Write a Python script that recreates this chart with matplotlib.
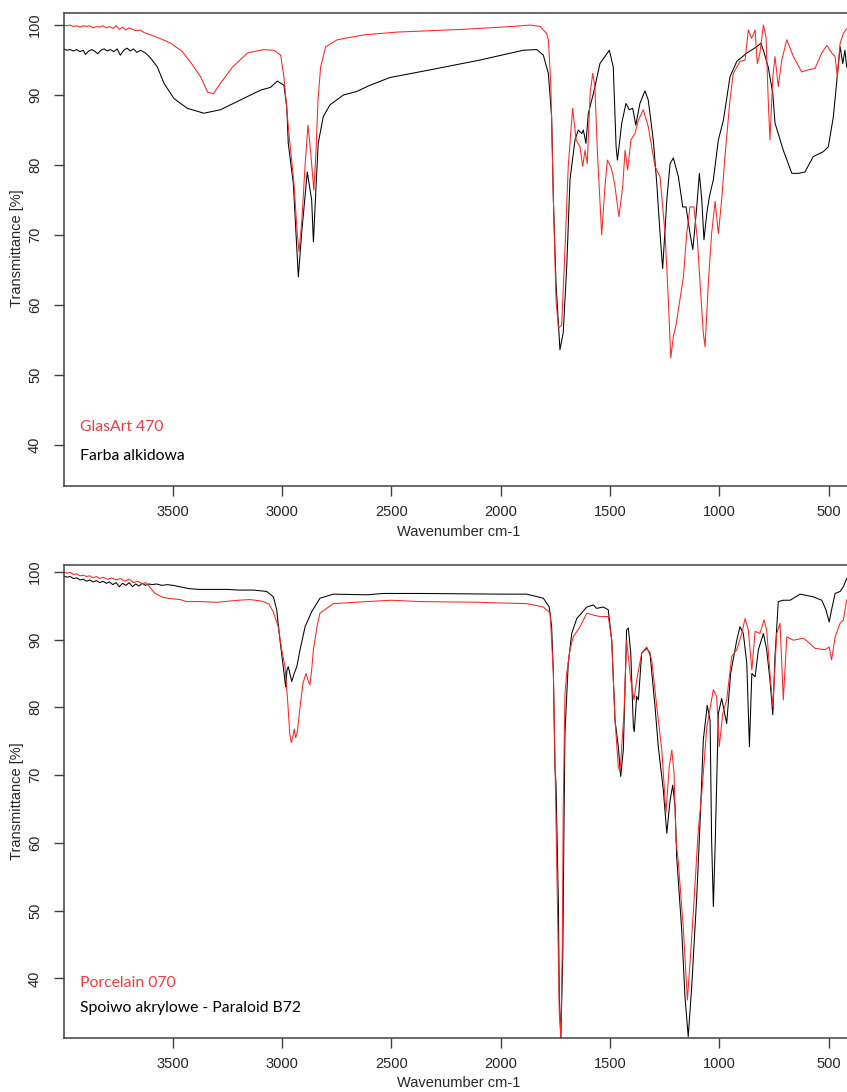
import matplotlib
matplotlib.use("Agg")
import matplotlib.pyplot as plt

# ---------------- data: (wavenumber cm-1, transmittance %) ----------------
# Top panel
top_red = [(4000,100.0),(3985,99.9),(3970,100.0),(3955,99.8),(3940,99.9),(3925,99.7),(3910,99.9),(3895,99.8),
           (3880,99.9),(3865,99.6),(3850,99.8),(3835,99.7),(3820,99.9),(3805,99.6),(3790,99.8),(3775,99.5),
           (3760,99.9),(3745,99.4),(3730,99.7),(3716,99.3),(3700,99.6),(3693,99.5),(3670,99.2),(3650,99.3),
           (3630,98.9),(3602,98.6),(3560,98.1),(3510,97.4),(3460,96.3),(3419,94.7),(3373,92.6),(3341,90.4),
           (3314,90.2),(3282,91.7),(3227,94.0),(3159,96.0),(3085,96.5),(3038,96.4),(3007,95.7),(2992,92.6),
           (2969,84.5),(2946,77.4),(2931,70.2),(2923,67.6),(2910,72.0),(2895,80.0),(2882,85.7),(2870,82.0),
           (2855,76.4),(2845,82.0),(2836,89.3),(2824,94.0),(2801,96.9),(2748,97.9),(2626,98.6),(2474,99.0),
           (2169,99.4),(1950,99.8),(1866,100.0),(1820,99.8),(1790,98.8),(1782,97.9),(1771,91.7),(1759,75.0),
           (1747,60.7),(1736,56.7),(1721,57.1),(1706,67.9),(1691,79.8),(1671,88.1),(1655,83.6),(1637,82.6),
           (1625,79.8),(1614,82.1),(1604,80.2),(1591,90.2),(1579,93.1),(1569,91.2),(1558,82.1),(1546,75.0),
           (1538,70.0),(1523,76.9),(1512,80.7),(1497,79.8),(1488,78.8),(1477,76.9),(1459,72.6),(1442,76.9),
           (1431,82.1),(1419,79.3),(1404,83.6),(1386,84.5),(1370,86.4),(1348,87.9),(1325,85.5),(1294,79.8),
           (1271,78.3),(1248,70.2),(1233,60.7),(1222,52.4),(1210,55.5),(1198,57.1),(1180,60.7),(1164,64.0),
           (1149,70.2),(1134,74.0),(1116,74.0),(1100,69.3),(1088,63.1),(1073,56.0),(1065,54.0),(1050,63.1),
           (1035,70.2),(1019,74.8),(1004,70.2),(989,75.0),(974,81.2),(951,89.3),(936,93.1),(905,94.8),
           (882,95.0),(867,99.3),(852,98.1),(836,99.3),(826,94.5),(814,96.0),(798,100.0),(786,98.3),
           (776,89.3),(768,83.6),(755,92.6),(745,95.5),(730,91.2),(714,95.0),(691,97.9),(661,95.5),
           (623,93.3),(593,93.6),(562,93.8),(531,96.0),(508,97.1),(485,96.0),(470,95.5),(460,92.6),
           (447,97.4),(432,98.8),(417,99.5),(405,99.8)]

top_black = [(4000,96.6),(3985,96.4),(3970,96.5),(3955,96.3),(3940,96.5),(3925,96.2),(3910,96.4),(3900,95.8),
             (3885,96.3),(3870,96.5),(3855,96.2),(3844,95.9),(3830,96.4),(3815,96.6),(3800,96.3),(3785,96.5),
             (3770,96.2),(3755,96.6),(3740,95.7),(3725,96.4),(3710,96.7),(3695,96.3),(3680,96.6),(3665,96.1),
             (3648,96.4),(3625,96.0),(3602,95.3),(3571,94.0),(3541,91.7),(3495,89.5),(3434,88.1),(3358,87.4),
             (3282,87.9),(3190,89.3),(3099,90.7),(3053,91.1),(3022,92.0),(2992,91.4),(2979,88.3),(2972,83.1),
             (2949,77.4),(2933,67.9),(2926,64.0),(2911,70.2),(2885,79.0),(2865,75.0),(2857,69.0),(2845,76.9),
             (2835,83.1),(2812,86.9),(2781,88.6),(2720,90.0),(2659,90.5),(2598,91.4),(2507,92.5),(2323,93.6),
             (2095,95.0),(1897,96.4),(1835,96.5),(1805,95.7),(1782,93.1),(1767,86.9),(1759,75.0),(1747,63.1),
             (1729,53.6),(1714,56.0),(1698,65.4),(1683,77.9),(1660,83.6),(1645,85.0),(1629,84.5),(1622,85.0),
             (1610,83.1),(1599,87.4),(1576,90.2),(1546,94.5),(1503,96.4),(1485,94.0),(1472,82.6),(1466,80.7),
             (1446,86.0),(1427,88.8),(1412,87.9),(1396,88.1),(1382,85.7),(1363,88.8),(1340,90.6),(1325,89.3),
             (1302,83.6),(1286,77.4),(1271,70.2),(1259,65.2),(1240,75.0),(1225,80.2),(1210,81.0),(1187,78.3),
             (1167,74.0),(1152,74.0),(1134,70.2),(1121,67.9),(1103,74.0),(1091,78.8),(1080,75.0),(1070,69.3),
             (1057,73.1),(1045,75.5),(1027,77.9),(1004,83.6),(981,86.4),(951,92.6),(920,94.8),(874,96.0),
             (829,96.9),(810,97.4),(798,96.4),(776,94.0),(755,90.2),(745,86.0),(707,82.1),(668,78.8),
             (638,78.8),(608,79.0),(570,81.2),(524,81.9),(501,82.6),(478,86.9),(463,91.7),(447,96.9),
             (435,94.5),(425,96.4),(417,94.0),(405,95.5)]

# Bottom panel
bottom_red = [(4000,100.0),(3985,99.8),(3970,99.9),(3955,99.6),(3940,99.7),(3925,99.4),(3910,99.5),(3895,99.3),
              (3880,99.4),(3865,99.1),(3850,99.3),(3835,99.0),(3820,99.2),(3800,98.9),(3780,99.1),(3760,98.8),
              (3740,99.0),(3720,98.6),(3700,98.9),(3680,98.4),(3660,98.6),(3640,98.2),(3625,98.4),(3612,98.0),
              (3595,97.3),(3582,96.8),(3544,96.2),(3500,96.0),(3467,95.9),(3437,95.6),(3380,95.6),(3299,95.5),
              (3200,95.8),(3147,95.9),(3100,95.7),(3086,95.6),(3060,95.2),(3041,94.1),(3018,91.9),(3002,88.5),
              (2987,86.0),(2975,81.0),(2965,76.0),(2958,74.8),(2950,75.8),(2945,76.8),(2938,75.5),(2930,76.5),
              (2920,79.5),(2905,83.5),(2891,85.0),(2880,83.8),(2873,83.3),(2865,85.5),(2857,88.5),(2840,92.0),
              (2827,93.9),(2766,95.3),(2613,95.6),(2500,95.8),(2369,95.6),(2100,95.5),(2003,95.4),(1881,95.3),
              (1805,94.8),(1774,93.9),(1759,85.0),(1752,72.7),(1740,50.0),(1732,35.0),(1725,31.4),(1718,45.0),
              (1714,65.0),(1706,82.0),(1698,85.0),(1683,88.5),(1668,90.4),(1637,91.9),(1606,93.9),(1576,93.6),
              (1546,93.4),(1508,93.4),(1492,89.9),(1477,78.1),(1462,71.2),(1454,70.5),(1436,79.1),(1424,89.9),
              (1405,84.0),(1390,81.1),(1378,84.0),(1355,88.0),(1332,88.9),(1309,87.0),(1286,80.1),(1263,73.7),
              (1244,64.4),(1229,71.2),(1217,73.7),(1207,70.3),(1198,60.4),(1187,57.0),(1164,47.2),(1146,36.8),
              (1134,42.2),(1119,49.6),(1096,61.9),(1080,67.3),(1057,77.1),(1027,82.6),(1012,81.6),(1000,74.2),
              (984,79.1),(966,81.1),(943,87.5),(920,88.5),(897,90.9),(882,93.1),(867,91.4),(851,85.5),
              (836,91.2),(814,90.9),(795,92.9),(783,91.4),(768,85.0),(755,80.1),(737,90.9),(722,92.4),
              (707,81.1),(691,90.4),(661,89.9),(615,90.2),(585,89.4),(562,88.7),(516,88.5),(497,88.9),
              (486,87.0),(470,90.4),(447,92.4),(432,92.9),(417,95.8),(405,96.5)]

bottom_black = [(4000,99.4),(3985,99.2),(3970,99.3),(3955,99.0),(3940,99.1),(3925,98.8),(3910,98.9),(3895,98.6),
                (3880,98.8),(3865,98.5),(3850,98.7),(3835,98.4),(3820,98.6),(3805,98.3),(3790,98.5),(3775,98.1),
                (3760,98.4),(3745,97.8),(3730,98.3),(3715,98.0),(3700,98.4),(3685,97.8),(3670,98.2),(3655,97.9),
                (3640,98.3),(3625,98.0),(3610,98.2),(3595,98.1),(3575,98.2),(3550,98.0),(3525,98.1),(3500,98.0),
                (3470,97.8),(3440,97.6),(3422,97.5),(3380,97.4),(3330,97.4),(3254,97.4),(3200,97.3),(3132,97.3),
                (3071,97.1),(3040,96.3),(3025,94.4),(3010,89.9),(2995,86.0),(2984,83.0),(2978,85.5),(2972,86.0),
                (2956,83.8),(2945,85.0),(2933,86.0),(2918,88.5),(2895,91.9),(2865,94.1),(2827,96.1),(2766,96.7),
                (2613,96.6),(2537,96.8),(2369,96.8),(2003,96.7),(1881,96.7),(1805,96.1),(1778,94.8),(1767,91.9),
                (1759,85.0),(1752,71.2),(1747,68.8),(1736,50.8),(1732,37.3),(1725,31.2),(1716,43.2),(1710,64.4),
                (1706,76.2),(1691,86.5),(1675,90.9),(1652,93.1),(1606,94.8),(1576,95.1),(1561,94.6),(1531,94.8),
                (1508,94.4),(1492,89.9),(1477,78.1),(1462,74.2),(1451,69.8),(1439,73.7),(1424,91.4),(1416,91.7),
                (1405,88.0),(1393,77.1),(1389,76.4),(1378,81.6),(1370,81.1),(1355,88.0),(1332,88.7),(1317,88.0),
                (1294,80.1),(1279,74.2),(1256,67.8),(1240,61.4),(1225,66.3),(1213,68.5),(1202,65.3),(1195,58.0),
                (1172,47.2),(1157,37.3),(1142,31.4),(1126,38.8),(1103,52.1),(1088,62.9),(1080,69.3),(1073,75.2),
                (1055,80.3),(1042,78.1),(1035,60.4),(1027,50.6),(1019,59.4),(1012,68.3),(1004,79.1),(989,81.3),
                (966,77.6),(948,85.0),(920,89.9),(905,91.9),(890,90.9),(874,86.5),(862,74.2),(851,85.0),
                (836,84.5),(821,88.5),(798,90.9),(783,88.5),(768,84.0),(755,78.9),(745,87.5),(730,95.6),
                (707,95.8),(676,95.8),(630,96.7),(570,96.3),(531,95.8),(512,94.4),(497,92.6),(486,94.4),
                (470,96.8),(447,97.1),(432,97.8),(417,99.0),(405,99.4)]

x_ticks = [3500, 3000, 2500, 2000, 1500, 1000, 500]
y_ticks = [40, 50, 60, 70, 80, 90, 100]
top_labels = ["GlasArt 470", "Farba alkidowa"]
bottom_labels = ["Porcelain 070", "Spoiwo akrylowe - Paraloid B72"]
x_title = "Wavenumber cm-1"
y_title = "Transmittance [%]"

# ---------------- figure ----------------
W, H = 847, 1092
fig = plt.figure(figsize=(W / 100, H / 100), dpi=100)

RED = "#FF2626"
TXT_RED = "#EE3E42"
AX_COL = "#404040"
TXT_COL = "#262626"
TICK_FONT = "Liberation Sans"
LEG_FONT = "Lato"
FS = 10.5


def px_rect(left, top, right, bottom):
    return [left / W, 1 - bottom / H, (right - left) / W, (bottom - top) / H]


def style(ax, ylim):
    ax.set_xlim(4000, 400)
    ax.set_ylim(*ylim)
    ax.set_xticks(x_ticks)
    ax.set_yticks(y_ticks)
    ax.set_xticklabels([str(v) for v in x_ticks], fontsize=FS, family=TICK_FONT, color=TXT_COL)
    ax.set_yticklabels([str(v) for v in y_ticks], fontsize=FS, family=TICK_FONT, color=TXT_COL,
                       rotation=90, va="center")
    ax.tick_params(axis="x", direction="out", length=7.5, width=1.0, color=AX_COL, pad=6)
    ax.tick_params(axis="y", direction="out", length=7.5, width=1.0, color=AX_COL, pad=8)
    for s in ax.spines.values():
        s.set_color(AX_COL)
        s.set_linewidth(1.1)


panels = [
    (px_rect(63.6, 12.5, 850.4, 486), (34.1, 101.8), top_red, top_black, top_labels, (427, 456), 248, 532),
    (px_rect(63.6, 565, 850.4, 1038), (31.2, 101.0), bottom_red, bottom_black, bottom_labels, (983, 1008), 801, 1083),
]

for rect, ylim, red_series, black_series, labels, ly, ylab_y, xlab_y in panels:
    ax = fig.add_axes(rect)
    bwn, bt = zip(*black_series)
    rwn, rt = zip(*red_series)
    ax.plot(bwn, bt, color="black", lw=0.75)
    ax.plot(rwn, rt, color=RED, lw=0.75)
    style(ax, ylim)
    fig.text(80 / W, 1 - ly[0] / H, labels[0], color=TXT_RED, fontsize=11.3, family=LEG_FONT,
             ha="left", va="center")
    fig.text(80 / W, 1 - ly[1] / H, labels[1], color="black", fontsize=11.3, family=LEG_FONT,
             ha="left", va="center")
    fig.text(459 / W, 1 - xlab_y / H, x_title, fontsize=FS, family=TICK_FONT, color=TXT_COL,
             ha="center", va="center")
    fig.text(17.5 / W, 1 - ylab_y / H, y_title, fontsize=FS, family=TICK_FONT, color=TXT_COL,
             ha="center", va="center", rotation=90)

fig.savefig("out.png", dpi=100)
